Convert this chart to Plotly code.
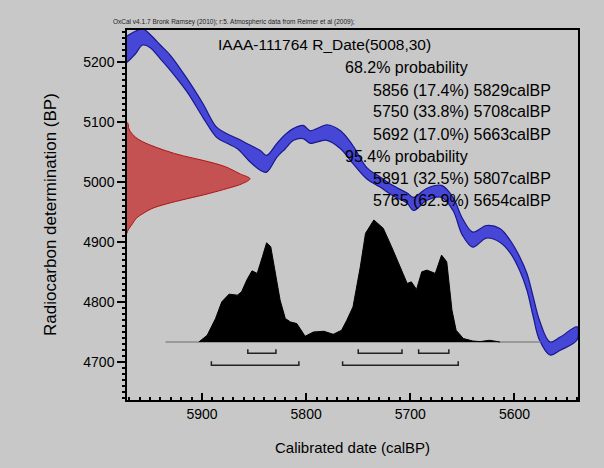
import plotly.graph_objects as go

# calibration curve (IntCal09 band)
curve_cal = [5972, 5964, 5957, 5950, 5940, 5930, 5914, 5899, 5886, 5876, 5866, 5855,
             5844, 5838, 5828, 5820, 5812, 5803, 5796, 5788, 5780, 5767, 5755, 5742,
             5729, 5717, 5703, 5697, 5684, 5670, 5659, 5650, 5640, 5627, 5614, 5604,
             5595, 5588, 5582, 5576, 5566, 5556, 5540]
curve_hi = [5244, 5252, 5256, 5247, 5229, 5211, 5172, 5131, 5092, 5081, 5073, 5063,
            5053, 5045, 5065, 5080, 5090, 5095, 5086, 5091, 5096, 5086, 5061, 5025,
            5009, 4995, 4982, 4975, 4990, 4995, 4975, 4940, 4917, 4928, 4923, 4903,
            4876, 4848, 4809, 4770, 4734, 4742, 4759]
curve_lo = [5200, 5214, 5229, 5225, 5206, 5186, 5150, 5108, 5075, 5065, 5056, 5036,
            5020, 5017, 5042, 5056, 5070, 5073, 5065, 5068, 5070, 5056, 5031, 5006,
            4992, 4978, 4965, 4953, 4970, 4975, 4953, 4912, 4892, 4907, 4900, 4882,
            4853, 4820, 4776, 4737, 4712, 4720, 4737]

# radiocarbon measurement R_Date(5008,30) - relative likelihood
meas_bp = [5100, 5098, 5089, 5080, 5070, 5053, 5044, 5036, 5026, 5014, 5006, 4998,
           4990, 4981, 4964, 4956, 4948, 4940, 4931, 4920, 4915]
meas_p = [0, 0.008, 0.016, 0.045, 0.106, 0.31, 0.46, 0.63, 0.8, 0.92, 1.0, 0.94,
          0.82, 0.66, 0.32, 0.2, 0.13, 0.075, 0.045, 0.008, 0]

# calibrated probability distribution
post_cal = [5903, 5895, 5887, 5881, 5874, 5866, 5862, 5857, 5852, 5847, 5842, 5838,
            5834, 5830, 5825, 5820, 5815, 5809, 5801, 5793, 5783, 5774, 5766, 5761,
            5758, 5755, 5748, 5743, 5735, 5726, 5718, 5710, 5703, 5699, 5694, 5689,
            5684, 5676, 5670, 5665, 5660, 5656, 5649, 5640, 5633, 5624, 5614]
post_p = [0, 0.055, 0.192, 0.329, 0.392, 0.384, 0.411, 0.507, 0.583, 0.562, 0.698, 0.813,
          0.781, 0.589, 0.343, 0.192, 0.164, 0.151, 0.047, 0.082, 0.088, 0.063, 0.096, 0.178,
          0.236, 0.288, 0.616, 0.891, 1.0, 0.932, 0.781, 0.616, 0.48, 0.493, 0.431, 0.575,
          0.589, 0.562, 0.712, 0.657, 0.26, 0.096, 0.028, 0.008, 0.003, 0.014, 0]
baseline_cal = [5935, 5575]

# highest posterior density ranges
r68 = [(5856, 5829), (5750, 5708), (5692, 5663)]
r95 = [(5891, 5807), (5765, 5654)]

lines = ["68.2% probability",
         "5856 (17.4%) 5829calBP",
         "5750 (33.8%) 5708calBP",
         "5692 (17.0%) 5663calBP",
         "95.4% probability",
         "5891 (32.5%) 5807calBP",
         "5765 (62.9%) 5654calBP"]

bg = "#c8c8c8"
sans = "Liberation Sans, Arial, sans-serif"

fig = go.Figure()

# measurement on the y axis
fig.add_trace(go.Scatter(x=meas_p, y=meas_bp, xaxis="x2", yaxis="y", mode="lines",
                         fill="toself", fillcolor="rgb(196,82,82)",
                         line=dict(color="rgb(175,20,20)", width=1, shape="spline"),
                         hoverinfo="skip"))

# calibration band
fig.add_trace(go.Scatter(x=curve_cal + curve_cal[::-1], y=curve_hi + curve_lo[::-1],
                         mode="lines", fill="toself", fillcolor="rgb(70,70,215)",
                         line=dict(color="rgb(25,25,140)", width=1.2, shape="spline"),
                         hoverinfo="skip"))

# baseline and posterior
fig.add_trace(go.Scatter(x=baseline_cal, y=[0, 0], xaxis="x", yaxis="y2", mode="lines",
                         line=dict(color="#8a8a8a", width=1.5), hoverinfo="skip"))
fig.add_trace(go.Scatter(x=post_cal, y=post_p, xaxis="x", yaxis="y2", mode="lines",
                         fill="tozeroy", fillcolor="black",
                         line=dict(color="black", width=1), hoverinfo="skip"))

# range brackets
def brackets(ranges, level, top):
    bx, by = [], []
    for a, b in ranges:
        bx += [a, a, b, b, None]
        by += [top, level, level, top, None]
    return bx, by

for rng, lvl, top in [(r68, -0.093, -0.06), (r95, -0.19, -0.157)]:
    bx, by = brackets(rng, lvl, top)
    fig.add_trace(go.Scatter(x=bx, y=by, xaxis="x", yaxis="y2", mode="lines",
                             line=dict(color="#222", width=1.5), hoverinfo="skip"))

ann = []
ann.append(dict(text="IAAA-111764 R_Date(5008,30)", x=0.437, y=0.9595, xref="paper",
                yref="paper", xanchor="center", yanchor="middle", showarrow=False,
                font=dict(family=sans, size=15.5, color="black")))
ann.append(dict(text="OxCal v4.1.7 Bronk Ramsey (2010); r:5. Atmospheric data from Reimer et al (2009);",
                x=-0.035, y=(400 - 22) / 370, xref="paper", yref="paper", xanchor="left",
                yanchor="middle", showarrow=False, font=dict(family=sans, size=6.5, color="#222")))
for i, t in enumerate(lines):
    indent = 0.479 if "probability" in t else 0.541
    ann.append(dict(text=t, x=indent, y=(400 - 68 - 22 * i) / 370, xref="paper", yref="paper",
                    xanchor="left", yanchor="middle", showarrow=False,
                    font=dict(family=sans, size=16, color="black")))
ann.append(dict(text="Calibrated date (calBP)", x=0.501, y=-0.1297, xref="paper", yref="paper",
                xanchor="center", yanchor="middle", showarrow=False,
                font=dict(family=sans, size=15, color="black")))
ann.append(dict(text="Radiocarbon determination (BP)", x=-0.1707, y=0.5, xref="paper",
                yref="paper", xanchor="center", yanchor="middle", textangle=-90, showarrow=False,
                font=dict(family=sans, size=17, color="black")))

fig.update_layout(
    width=604, height=468,
    margin=dict(l=127, r=26, t=30, b=68),
    paper_bgcolor=bg, plot_bgcolor=bg,
    showlegend=False,
    annotations=ann,
    xaxis=dict(range=[5972, 5539], tickvals=[5900, 5800, 5700, 5600], ticks="inside",
               ticklen=7, tickcolor="black", tickwidth=1.5,
               minor=dict(dtick=10, ticks="inside", ticklen=3, tickcolor="black"),
               showline=True, linecolor="black", linewidth=1.5, mirror=True,
               showgrid=False, zeroline=False,
               tickfont=dict(family=sans, size=14, color="black")),
    yaxis=dict(range=[4637, 5254], tickvals=[4700, 4800, 4900, 5000, 5100, 5200],
               ticks="outside", ticklen=8, tickcolor="black", tickwidth=1.5,
               minor=dict(dtick=10, ticks="outside", ticklen=3, tickcolor="black"),
               showline=True, linecolor="black", linewidth=1.5, mirror=True,
               showgrid=False, zeroline=False,
               tickfont=dict(family=sans, size=14, color="black")),
    xaxis2=dict(overlaying="x", range=[0, 3.667], visible=False),
    yaxis2=dict(overlaying="y", range=[-0.4755, 2.557], visible=False),
)

fig.write_html("out.html", config={"displayModeBar": False},
               post_script="document.body.style.margin='0px';")
